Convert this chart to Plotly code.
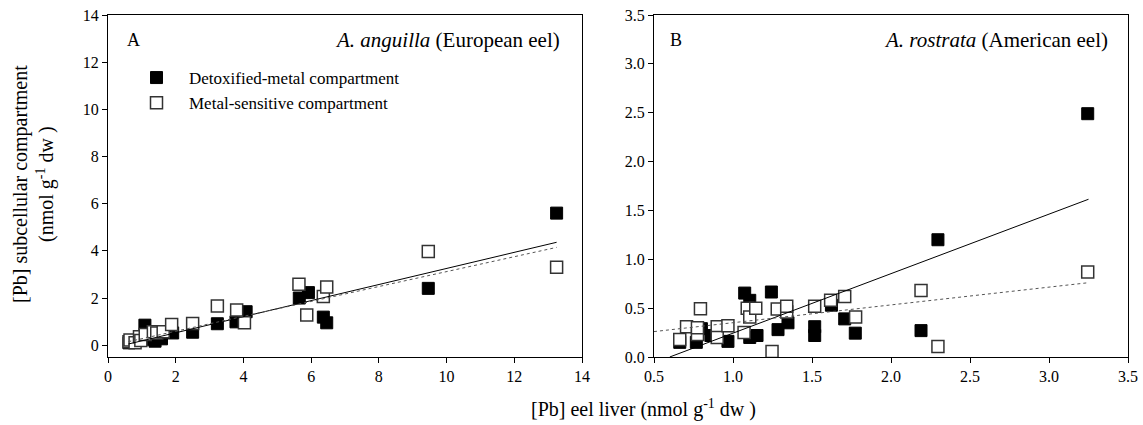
import plotly.graph_objects as go

# Panel A: A. anguilla (European eel)
a_detox_x = [0.62, 0.70, 0.85, 1.00, 1.09, 1.20, 1.39, 1.58, 1.91, 2.50, 3.23, 3.78, 4.08,
             5.65, 5.92, 6.36, 6.46, 9.46, 13.25]
a_detox_y = [0.10, 0.15, 0.20, 0.30, 0.85, 0.25, 0.17, 0.27, 0.52, 0.55, 0.91, 0.99, 1.42,
             2.00, 2.23, 1.19, 0.95, 2.41, 5.60]
a_sens_x = [0.62, 0.65, 0.80, 0.93, 0.97, 1.10, 1.34, 1.44, 1.63, 1.88, 2.50, 3.23, 3.80,
            4.03, 5.64, 5.87, 6.36, 6.46, 9.46, 13.25]
a_sens_y = [0.15, 0.22, 0.10, 0.36, 0.20, 0.45, 0.57, 0.52, 0.57, 0.88, 0.92, 1.66, 1.49,
            0.95, 2.58, 1.28, 2.07, 2.47, 3.97, 3.30]

# Panel B: A. rostrata (American eel)
b_detox_x = [0.663, 0.768, 0.80, 0.86, 0.968, 1.074, 1.106, 1.106, 1.152, 1.243, 1.285, 1.348,
             1.517, 1.517, 1.623, 1.707, 1.774, 2.19, 2.297, 3.245]
b_detox_y = [0.15, 0.15, 0.29, 0.22, 0.16, 0.654, 0.58, 0.20, 0.22, 0.665, 0.28, 0.35,
             0.31, 0.22, 0.53, 0.39, 0.244, 0.27, 1.20, 2.49]
b_sens_x = [0.663, 0.706, 0.775, 0.775, 0.794, 0.90, 0.90, 0.968, 1.07, 1.09, 1.106, 1.144,
            1.247, 1.28, 1.34, 1.34, 1.517, 1.618, 1.707, 1.776, 2.19, 2.297, 3.245]
b_sens_y = [0.18, 0.31, 0.23, 0.30, 0.494, 0.31, 0.20, 0.32, 0.25, 0.50, 0.41, 0.50,
            0.056, 0.49, 0.46, 0.52, 0.52, 0.58, 0.62, 0.41, 0.68, 0.108, 0.87]

# Linear regressions (slope, intercept) and fitted x-extent
a_detox_fit = (0.341, -0.155)
a_sens_fit = (0.316, -0.04)
a_fit_x = [0.6, 13.25]
b_detox_fit = (0.609, -0.365)
b_sens_fit = (0.182, 0.169)
b_detox_fit_x = [0.6, 3.25]
b_sens_fit_x = [0.5, 3.25]

FONT = "Liberation Serif"
W, H = 1143, 425

filled = dict(symbol="square", size=12, color="black", line=dict(color="black", width=1))
hollow = dict(symbol="square", size=12, color="white", line=dict(color="#333333", width=1.5))

fig = go.Figure()

fig.add_trace(go.Scatter(x=a_detox_x, y=a_detox_y, mode="markers", marker=filled,
                         name="Detoxified-metal compartment", xaxis="x", yaxis="y"))
fig.add_trace(go.Scatter(x=a_sens_x, y=a_sens_y, mode="markers", marker=hollow,
                         name="Metal-sensitive compartment", xaxis="x", yaxis="y"))
fig.add_trace(go.Scatter(x=b_detox_x, y=b_detox_y, mode="markers", marker=filled,
                         showlegend=False, xaxis="x2", yaxis="y2"))
fig.add_trace(go.Scatter(x=b_sens_x, y=b_sens_y, mode="markers", marker=hollow,
                         showlegend=False, xaxis="x2", yaxis="y2"))


def fit_line(xs, coef, dash, color, xa, ya):
    m, c = coef
    return go.Scatter(x=xs, y=[m * v + c for v in xs], mode="lines",
                      line=dict(color=color, width=1, dash=dash),
                      showlegend=False, hoverinfo="skip", xaxis=xa, yaxis=ya)


fig.add_trace(fit_line(a_fit_x, a_detox_fit, "solid", "black", "x", "y"))
fig.add_trace(fit_line(a_fit_x, a_sens_fit, "dot", "#555555", "x", "y"))
fig.add_trace(fit_line(b_detox_fit_x, b_detox_fit, "solid", "black", "x2", "y2"))
fig.add_trace(fit_line(b_sens_fit_x, b_sens_fit, "dot", "#555555", "x2", "y2"))

axis_common = dict(showline=True, linecolor="black", linewidth=1, mirror=True,
                   ticks="outside", ticklen=5, tickcolor="black", showgrid=False,
                   zeroline=False, automargin=False,
                   tickfont=dict(family=FONT, size=16, color="black"))

y_lo, y_hi = 1 - 357 / H, 1 - 15 / H

fig.update_layout(
    width=W, height=H,
    margin=dict(l=0, r=0, t=0, b=0),
    paper_bgcolor="white", plot_bgcolor="white",
    font=dict(family=FONT, color="black"),
    xaxis=dict(domain=[108 / W, 582 / W], range=[0, 14], dtick=2, anchor="y", **axis_common),
    yaxis=dict(domain=[y_lo, y_hi], range=[-0.5, 14], dtick=2, anchor="x", **axis_common),
    xaxis2=dict(domain=[654 / W, 1128 / W], range=[0.5, 3.5], dtick=0.5, tickformat=".1f",
                anchor="y2", **axis_common),
    yaxis2=dict(domain=[y_lo, y_hi], range=[0, 3.5], dtick=0.5, tickformat=".1f",
                anchor="x2", **axis_common),
    legend=dict(x=124 / W, y=1 - 60 / H, xanchor="left", yanchor="top",
                bgcolor="rgba(0,0,0,0)", itemwidth=55,
                font=dict(family=FONT, size=17, color="black")),
    showlegend=True,
)

ann = dict(xref="paper", yref="paper", showarrow=False, font=dict(family=FONT, size=20, color="black"))
title_font = dict(family=FONT, size=21, color="black")
fig.add_annotation(x=133 / W, y=1 - 40 / H, text="A", xanchor="center", yanchor="middle",
                   xref="paper", yref="paper", showarrow=False,
                   font=dict(family=FONT, size=18, color="black"))
fig.add_annotation(x=562 / W, y=1 - 40 / H, text="<i>A. anguilla</i> (European eel)",
                   xanchor="right", yanchor="middle", xref="paper", yref="paper",
                   showarrow=False, font=title_font)
fig.add_annotation(x=676 / W, y=1 - 40 / H, text="B", xanchor="center", yanchor="middle",
                   xref="paper", yref="paper", showarrow=False,
                   font=dict(family=FONT, size=18, color="black"))
fig.add_annotation(x=1110 / W, y=1 - 40 / H, text="<i>A. rostrata</i> (American eel)",
                   xanchor="right", yanchor="middle", xref="paper", yref="paper",
                   showarrow=False, font=title_font)

fig.add_annotation(x=643 / W, y=1 - 408 / H, text="[Pb] eel liver (nmol g<sup>-1</sup> dw )",
                   xanchor="center", yanchor="middle", **ann)
fig.add_annotation(x=34 / W, y=1 - 184 / H, textangle=-90,
                   text="[Pb] subcellular compartment<br>(nmol g<sup>-1</sup> dw )",
                   xanchor="center", yanchor="middle", **ann)

fig.write_html("out.html")
